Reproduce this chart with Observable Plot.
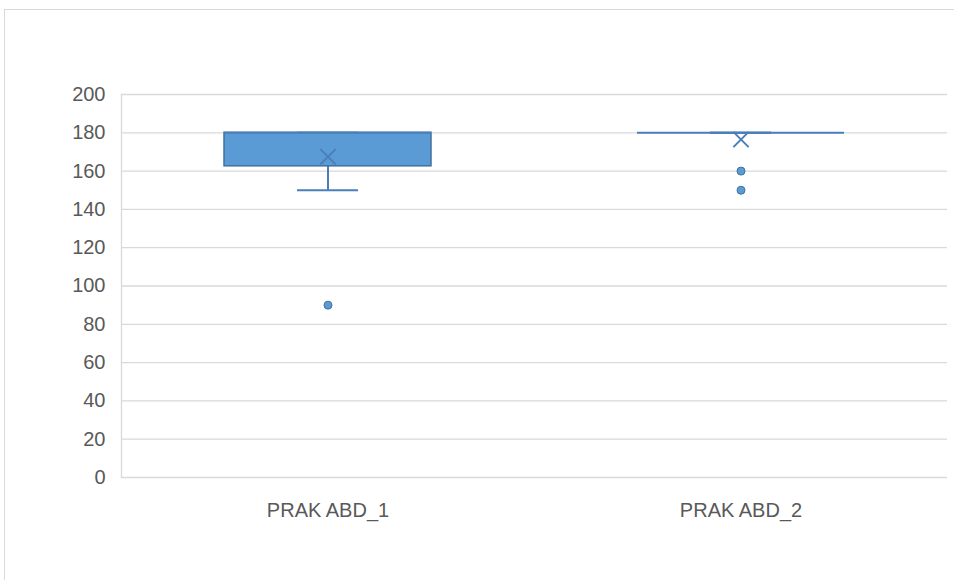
<!DOCTYPE html>
<html>
<head>
<meta charset="utf-8">
<script src="https://cdn.jsdelivr.net/npm/d3@7"></script>
<script src="https://cdn.jsdelivr.net/npm/@observablehq/plot@0.6"></script>
<style>
  html, body { margin: 0; padding: 0; background: #fff; overflow: hidden; }
  #wrap { position: relative; width: 954px; height: 580px; overflow: hidden; }
  #border { position: absolute; left: 4px; top: 9px; width: 1000px; height: 700px; border: 1px solid #d9d9d9; box-sizing: border-box; }
  #chart { position: absolute; left: 0; top: 0; }
</style>
</head>
<body>
<div id="wrap"><div id="border"></div><div id="chart"></div></div>
<script>
const categories = ["PRAK ABD_1", "PRAK ABD_2"];
const q1Values = [162.5, 180];
const medianValues = [180, 180];
const q3Values = [180, 180];
const whiskerLow = [150, 180];
const whiskerHigh = [180, 180];
const meanValues = [167.5, 176.5];
const outlierCategory = ["PRAK ABD_1", "PRAK ABD_2", "PRAK ABD_2"];
const outlierValues = [90, 160, 150];
const yTicks = [0, 20, 40, 60, 80, 100, 120, 140, 160, 180, 200];

const boxes = categories.map((c, i) => ({
  cat: c, q1: q1Values[i], median: medianValues[i], q3: q3Values[i],
  low: whiskerLow[i], high: whiskerHigh[i], mean: meanValues[i]
}));
const outliers = outlierValues.map((v, i) => ({cat: outlierCategory[i], value: v}));

const fill = "#5b9bd5";
const stroke = "#41719c";
const line = "#4a7ebb";

const chart = Plot.plot({
  width: 954,
  height: 580,
  marginLeft: 121,
  marginRight: 7,
  marginTop: 94,
  marginBottom: 103,
  style: { fontFamily: "'Liberation Sans', Arial, sans-serif", fontSize: "20px", color: "#595959", background: "transparent" },
  x: { domain: categories, padding: 0, label: null, tickSize: 0, tickPadding: 25 },
  y: { domain: [0, 200], ticks: yTicks, label: null, tickSize: 0, tickPadding: 16 },
  marks: [
    Plot.ruleY(yTicks, { stroke: "#d9d9d9", strokeWidth: 1.3 }),
    Plot.frame({ anchor: "left", stroke: "#d9d9d9", strokeWidth: 1.3 }),
    Plot.ruleX(boxes, { x: "cat", y1: "low", y2: "q1", stroke: line, strokeWidth: 2 }),
    Plot.ruleX(boxes, { x: "cat", y1: "q3", y2: "high", stroke: line, strokeWidth: 2 }),
    Plot.tickY(boxes, { x: "cat", y: "low", stroke: line, strokeWidth: 2, inset: 176 }),
    Plot.tickY(boxes, { x: "cat", y: "high", stroke: line, strokeWidth: 2, inset: 176 }),
    Plot.barY(boxes, { x: "cat", y1: "q1", y2: "q3", fill: fill, stroke: stroke, strokeWidth: 1.5, insetLeft: 103, insetRight: 103 }),
    Plot.tickY(boxes, { x: "cat", y: "median", stroke: line, strokeWidth: 2, insetLeft: 103, insetRight: 103 }),
    Plot.dot(boxes, { x: "cat", y: "mean", symbol: "times", r: 7, stroke: line, strokeWidth: 2 }),
    Plot.dot(outliers, { x: "cat", y: "value", r: 4, fill: fill, stroke: stroke, strokeWidth: 1 })
  ]
});
document.getElementById("chart").appendChild(chart);
</script>
</body>
</html>
